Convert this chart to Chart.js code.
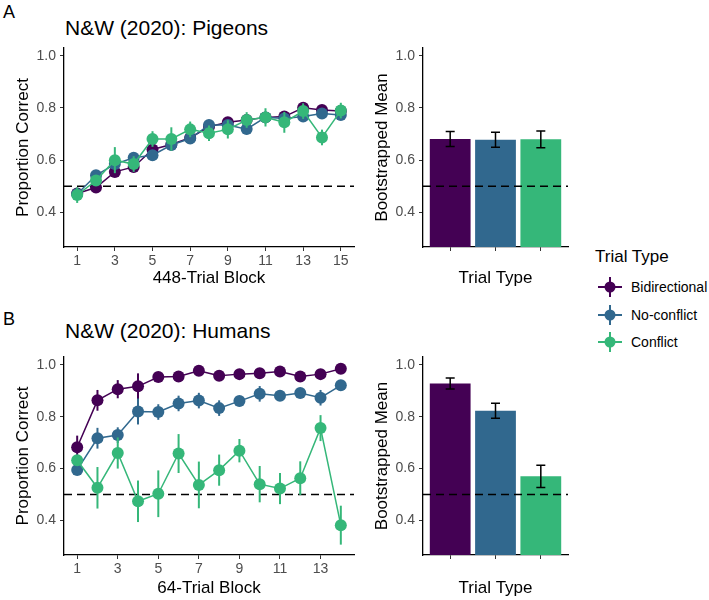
<!DOCTYPE html>
<html>
<head>
<meta charset="utf-8">
<script src="https://cdn.jsdelivr.net/npm/chart.js@4.4.0/dist/chart.umd.min.js"></script>
<style>
  body { margin: 0; background: #fff; }
  #fig { position: relative; width: 709px; height: 600px; font-family: "Liberation Sans", Arial, sans-serif; color: #000; }
  #fig canvas, #fig .txt { position: absolute; }
  .txt { line-height: 1; white-space: nowrap; }
  .tag { font-size: 18px; }
  .title { font-size: 21px; }
  .leg-title { font-size: 17px; }
  .leg-item { font-size: 14px; }
</style>
</head>
<body>
<div id="fig">
  <div class="txt tag" style="left:3px;top:3px">A</div>
  <div class="txt title" style="left:65px;top:17px">N&amp;W (2020): Pigeons</div>
  <canvas id="lineA" width="360" height="255" style="left:0;top:40px"></canvas>
  <canvas id="barA" width="215" height="255" style="left:360px;top:40px"></canvas>

  <div class="txt tag" style="left:3px;top:310px">B</div>
  <div class="txt title" style="left:65px;top:320px">N&amp;W (2020): Humans</div>
  <canvas id="lineB" width="360" height="251" style="left:0;top:349px"></canvas>
  <canvas id="barB" width="215" height="251" style="left:360px;top:349px"></canvas>

  <div class="txt leg-title" style="left:595px;top:248px">Trial Type</div>
  <div id="legend"></div>
</div>

<script>
// ======== Data ========
const trialTypes = ['Bidirectional', 'No-conflict', 'Conflict'];
const chance = 0.5;
const yTicks = [0.4, 0.6, 0.8, 1.0];
const yTickLabels = ['0.4', '0.6', '0.8', '1.0'];

// Panel A: pigeons, 448-trial blocks
const pigeonBlocks = [1, 2, 3, 4, 5, 6, 7, 8, 9, 10, 11, 12, 13, 14, 15];
const pigeonTicks = [1, 3, 5, 7, 9, 11, 13, 15];
const pigeonBidir = [0.472, 0.495, 0.555, 0.574, 0.641, 0.660, 0.686, 0.728, 0.745, 0.754, 0.764, 0.767, 0.801, 0.792, 0.788];
const pigeonNoConf = [0.470, 0.542, 0.585, 0.609, 0.619, 0.658, 0.683, 0.735, 0.735, 0.719, 0.764, 0.760, 0.767, 0.779, 0.773];
const pigeonConf = [0.466, 0.522, 0.600, 0.585, 0.681, 0.681, 0.718, 0.703, 0.718, 0.754, 0.764, 0.745, 0.788, 0.687, 0.790];
const pigeonBidirErr = [0.015, 0.012, 0.015, 0.02, 0.02, 0.015, 0.015, 0.02, 0.02, 0.02, 0.02, 0.02, 0.015, 0.015, 0.015];
const pigeonNoConfErr = [0.015, 0.02, 0.02, 0.015, 0.02, 0.015, 0.02, 0.02, 0.02, 0.02, 0.015, 0.015, 0.015, 0.015, 0.015];
const pigeonConfErr = [0.03, 0.02, 0.05, 0.03, 0.03, 0.045, 0.03, 0.03, 0.035, 0.03, 0.035, 0.04, 0.03, 0.03, 0.03];
const pigeonMeans = [0.681, 0.678, 0.680];
const pigeonMeanErr = [0.029, 0.029, 0.032];

// Panel B: humans, 64-trial blocks
const humanBlocks = [1, 2, 3, 4, 5, 6, 7, 8, 9, 10, 11, 12, 13, 14];
const humanTicks = [1, 3, 5, 7, 9, 11, 13];
const humanBidir = [0.682, 0.863, 0.906, 0.917, 0.953, 0.955, 0.977, 0.958, 0.964, 0.967, 0.974, 0.955, 0.964, 0.985];
const humanNoConf = [0.595, 0.717, 0.729, 0.820, 0.818, 0.851, 0.862, 0.833, 0.860, 0.888, 0.881, 0.891, 0.873, 0.921];
const humanConf = [0.632, 0.526, 0.660, 0.474, 0.503, 0.658, 0.537, 0.594, 0.669, 0.540, 0.523, 0.563, 0.756, 0.382];
const humanBidirErr = [0.045, 0.04, 0.035, 0.05, 0.015, 0.02, 0.01, 0.015, 0.015, 0.01, 0.01, 0.015, 0.01, 0.01];
const humanNoConfErr = [0.02, 0.04, 0.03, 0.05, 0.03, 0.03, 0.03, 0.03, 0.02, 0.03, 0.02, 0.02, 0.03, 0.01];
const humanConfErr = [0.02, 0.08, 0.06, 0.08, 0.09, 0.075, 0.09, 0.06, 0.045, 0.07, 0.06, 0.065, 0.05, 0.075];
const humanMeans = [0.928, 0.823, 0.570];
const humanMeanErr = [0.021, 0.029, 0.043];

// ======== Styles ========
const colors = ['#440154', '#31688E', '#35B779'];
const font = '"Liberation Sans", Arial, sans-serif';
Chart.defaults.font.family = font;
Chart.defaults.animation = false;

// dashed chance line
const chanceLine = {
    id: 'chanceLine',
    draw(chart) {
        const { ctx, chartArea: a, scales: { y } } = chart;
        const py = y.getPixelForValue(chance);
        ctx.save();
        ctx.setLineDash([8, 5]);
        ctx.lineWidth = 1.5;
        ctx.strokeStyle = '#000';
        ctx.beginPath();
        ctx.moveTo(a.left, py);
        ctx.lineTo(a.right, py);
        ctx.stroke();
        ctx.restore();
    },
    beforeDatasetsDraw(chart) { if (chart.config.type === 'line') this.draw(chart); },
    afterDatasetsDraw(chart) { if (chart.config.type === 'bar') this.draw(chart); }
};

// vertical error bars (pointrange style for lines, capped for bars)
const errorBars = {
    id: 'errorBars',
    beforeDatasetDraw(chart, args) {
        if (chart.config.type !== 'line') return;
        drawErrors(chart, args.index, 0, 2, null);
    },
    afterDatasetsDraw(chart) {
        if (chart.config.type !== 'bar') return;
        drawErrors(chart, 0, 4.5, 1.5, '#000');
    }
};

function drawErrors(chart, index, cap, width, color) {
    const ds = chart.data.datasets[index];
    const meta = chart.getDatasetMeta(index);
    const y = chart.scales.y;
    const ctx = chart.ctx;
    ctx.save();
    ctx.lineWidth = width;
    ctx.strokeStyle = color || ds.borderColor;
    meta.data.forEach((el, j) => {
        const v = ds.data[j].y, e = ds.errors[j];
        const top = y.getPixelForValue(v + e), bot = y.getPixelForValue(v - e);
        ctx.beginPath();
        ctx.moveTo(el.x, top);
        ctx.lineTo(el.x, bot);
        if (cap) {
            ctx.moveTo(el.x - cap, top); ctx.lineTo(el.x + cap, top);
            ctx.moveTo(el.x - cap, bot); ctx.lineTo(el.x + cap, bot);
        }
        ctx.stroke();
    });
    ctx.restore();
}

function axisBase() {
    return {
        grid: { drawOnChartArea: false, drawTicks: true, tickLength: 4, tickColor: '#333', tickWidth: 1, offset: false },
        border: { display: true, color: '#000', width: 1.3 },
    };
}

function yAxis(title, titlePad) {
    return Object.assign(axisBase(), {
        type: 'linear', min: 0.267, max: 1.03,
        afterBuildTicks: s => { s.ticks = yTicks.map(v => ({ value: v })); },
        ticks: { color: '#4D4D4D', font: { size: 14 }, padding: 4,
                 callback: v => yTickLabels[yTicks.indexOf(v)] },
        title: { display: true, text: title, color: '#000', font: { size: 17 }, padding: { top: titlePad, bottom: 0 } },
        afterFit: s => { s.width = s.chart.options.yWidth; s.paddingTop = 0; s.paddingBottom = 0; }
    });
}

function xAxis(min, max, ticks, labels, title, height, titlePad) {
    return Object.assign(axisBase(), {
        type: 'linear', min: min, max: max, offset: false,
        afterBuildTicks: s => { s.ticks = ticks.map(v => ({ value: v })); },
        ticks: { color: '#4D4D4D', font: { size: 14 }, padding: 2, maxRotation: 0, autoSkip: false,
                 callback: v => labels ? String(v) : '' },
        title: { display: true, text: title, color: '#000', font: { size: 17 }, padding: { top: 0, bottom: titlePad } },
        afterFit: s => { s.height = height; s.paddingLeft = 0; s.paddingRight = 0; }
    });
}

function lineChart(id, blocks, series, errs, ticks, xTitle, xHeight, xTitlePad) {
    const first = blocks[0], last = blocks[blocks.length - 1];
    const pad = 0.05 * (last - first);
    new Chart(document.getElementById(id), {
        type: 'line',
        data: {
            datasets: series.map((vals, i) => ({
                label: trialTypes[i],
                data: blocks.map((b, j) => ({ x: b, y: vals[j] })),
                errors: errs[i],
                borderColor: colors[i],
                backgroundColor: colors[i],
                pointBackgroundColor: colors[i],
                pointBorderWidth: 0,
                pointRadius: 6,
                borderWidth: 1.5,
                order: 2 - i,
            }))
        },
        options: {
            responsive: false,
            yWidth: 64,
            layout: { padding: { top: 8, right: 5, left: 0, bottom: 0 } },
            plugins: { legend: { display: false }, tooltip: { enabled: false } },
            scales: {
                x: xAxis(first - pad, last + pad, ticks, true, xTitle, xHeight, xTitlePad),
                y: yAxis('Proportion Correct', 13)
            }
        },
        plugins: [chanceLine, errorBars]
    });
}

function barChart(id, means, errs, xHeight, xTitlePad) {
    const cats = [1, 2, 3];
    new Chart(document.getElementById(id), {
        type: 'bar',
        data: {
            datasets: [{
                data: cats.map((c, i) => ({ x: c, y: means[i] })),
                errors: errs,
                backgroundColor: colors,
                borderWidth: 0,
                barPercentage: 0.9,
                categoryPercentage: 1,
            }]
        },
        options: {
            responsive: false,
            yWidth: 63,
            layout: { padding: { top: 8, right: 7, left: 0, bottom: 0 } },
            plugins: { legend: { display: false }, tooltip: { enabled: false } },
            scales: {
                x: xAxis(0.4, 3.6, cats, false, 'Trial Type', xHeight, xTitlePad),
                y: yAxis('Bootstrapped Mean', 12)
            }
        },
        plugins: [chanceLine, errorBars]
    });
}

lineChart('lineA', pigeonBlocks, [pigeonBidir, pigeonNoConf, pigeonConf],
          [pigeonBidirErr, pigeonNoConfErr, pigeonConfErr], pigeonTicks, '448-Trial Block', 48, 6);
barChart('barA', pigeonMeans, pigeonMeanErr, 48, 6);
lineChart('lineB', humanBlocks, [humanBidir, humanNoConf, humanConf],
          [humanBidirErr, humanNoConfErr, humanConfErr], humanTicks, '64-Trial Block', 45, 1);
barChart('barB', humanMeans, humanMeanErr, 45, 1);

// ======== Legend ========
const legendRows = [287, 315, 342];
const legend = document.getElementById('legend');
trialTypes.forEach((name, i) => {
    const cy = legendRows[i];
    legend.insertAdjacentHTML('beforeend',
        `<svg style="position:absolute;left:596px;top:${cy - 11}px" width="28" height="22">
           <line x1="2" y1="11" x2="26" y2="11" stroke="${colors[i]}" stroke-width="2"/>
           <line x1="14" y1="1" x2="14" y2="21" stroke="${colors[i]}" stroke-width="2"/>
           <circle cx="14" cy="11" r="5.5" fill="${colors[i]}"/>
         </svg>
         <div class="txt leg-item" style="left:631px;top:${cy - 7}px">${name}</div>`);
});
</script>
</body>
</html>
